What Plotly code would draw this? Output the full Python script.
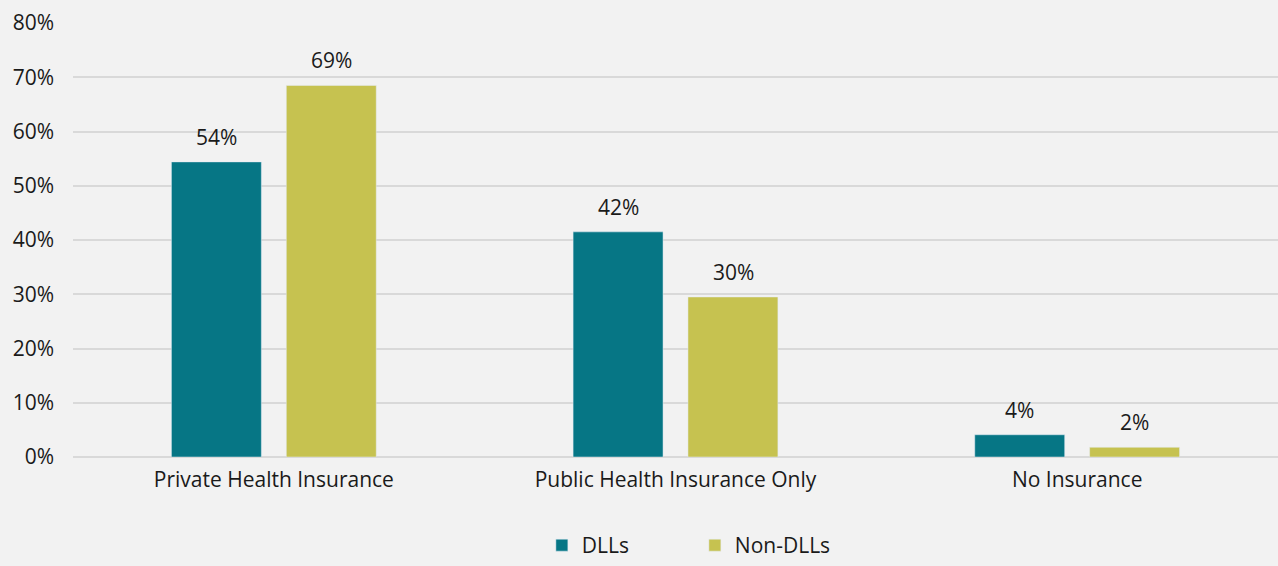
import plotly.graph_objects as go

categories = ["Private Health Insurance", "Public Health Insurance Only", "No Insurance"]
dlls = [0.544, 0.415, 0.041]
non_dlls = [0.685, 0.295, 0.018]
dlls_labels = ["54%", "42%", "4%"]
non_dlls_labels = ["69%", "30%", "2%"]
y_ticks = [0, 0.1, 0.2, 0.3, 0.4, 0.5, 0.6, 0.7, 0.8]

TEAL = "#067685"
OLIVE = "#C6C250"
FONT = "Open Sans"
FS = 21

fig = go.Figure()
fig.add_trace(go.Bar(name="DLLs", x=categories, y=dlls, marker_color=TEAL))
fig.add_trace(go.Bar(name="Non-DLLs", x=categories, y=non_dlls, marker_color=OLIVE))

for vals, labs, xs in [(dlls, dlls_labels, -57.5), (non_dlls, non_dlls_labels, 57.5)]:
    for c, v, t in zip(categories, vals, labs):
        fig.add_annotation(x=c, y=v, text=t, showarrow=False, xshift=xs, yshift=25,
                           yanchor="middle", font=dict(family=FONT, size=FS, color="#1a1a1a"))

fig.update_layout(
    width=1278, height=566,
    barmode="group", bargap=0.428, bargroupgap=0.217,
    paper_bgcolor="#F2F2F2", plot_bgcolor="#F2F2F2",
    margin=dict(l=73, r=0, t=23, b=109, autoexpand=False),
    font=dict(family=FONT, size=FS, color="#1a1a1a"),
    showlegend=True,
    legend=dict(orientation="h", x=0.424, xanchor="left", xref="container",
                y=0.0, yanchor="bottom", yref="container",
                font=dict(size=FS), entrywidth=108, entrywidthmode="pixels",
                bgcolor="rgba(0,0,0,0)", itemwidth=30),
    xaxis=dict(showgrid=False, showline=False, ticks="", tickfont=dict(size=FS),
               ticklabelstandoff=8, automargin=False),
    yaxis=dict(range=[0, 0.8], tickvals=y_ticks, tickformat=".0%", showgrid=True,
               gridcolor="#D9D9D9", gridwidth=1.5, zeroline=True, zerolinecolor="#D9D9D9",
               zerolinewidth=1.5, ticks="", ticklabelstandoff=18, tickfont=dict(size=FS),
               automargin=False),
)

fig.write_html("out.html", config={"displayModeBar": False},
               post_script="document.body.style.margin='0';")
